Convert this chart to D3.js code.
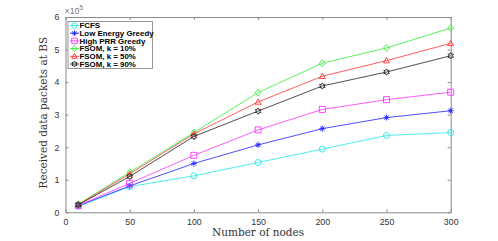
<!DOCTYPE html>
<html><head><meta charset="utf-8">
<script src="https://cdn.jsdelivr.net/npm/d3@7"></script>
<style>body{margin:0;background:#fff}svg{display:block}</style>
</head><body>
<svg id="c" width="498" height="241"></svg>
<script>
const nodes = [10, 50, 100, 150, 200, 250, 300];
const fcfs   = [0.18, 0.79, 1.12, 1.53, 1.94, 2.36, 2.45];
const leg    = [0.20, 0.81, 1.50, 2.07, 2.57, 2.91, 3.12];
const hprr   = [0.21, 0.89, 1.75, 2.53, 3.16, 3.46, 3.69];
const fsom10 = [0.25, 1.23, 2.45, 3.68, 4.58, 5.05, 5.66];
const fsom50 = [0.24, 1.18, 2.41, 3.39, 4.18, 4.66, 5.19];
const fsom90 = [0.23, 1.10, 2.33, 3.11, 3.88, 4.31, 4.81];
const seriesNames = ["FCFS", "Low Energy Greedy", "High PRR Greedy", "FSOM, k = 10%", "FSOM, k = 50%", "FSOM, k = 90%"];
const xTicks = [0, 50, 100, 150, 200, 250, 300];
const yTicks = [0, 1, 2, 3, 4, 5, 6];

const seriesData = [fcfs, leg, hprr, fsom10, fsom50, fsom90];
const colors = ["#22e8e8", "#2222ff", "#ff33ff", "#33ee33", "#ff3333", "#222222"];
const markers = ["circle", "asterisk", "square", "diamond", "triangle", "hexagram"];

const svg = d3.select("#c");
const L = 65.5, R = 450.7, T = 17, B = 212.3;
const x = d3.scaleLinear().domain([0, 300]).range([L, R]);
const y = d3.scaleLinear().domain([0, 6]).range([B, T]);
const axisCol = "#8a8a8a", textCol = "#333";

function styleAxis(g, hideText) {
  g.select(".domain").attr("stroke", axisCol).attr("stroke-width", 1);
  g.selectAll(".tick line").attr("stroke", axisCol);
  g.selectAll("text").attr("fill", textCol).style("font-family", "Liberation Sans, Arial, sans-serif").style("font-size", "8.8px");
  if (hideText) g.selectAll("text").remove();
}
svg.append("g").attr("transform", `translate(0,${B})`)
  .call(d3.axisBottom(x).tickValues(xTicks).tickSizeInner(-3).tickSizeOuter(0).tickPadding(6))
  .call(g => styleAxis(g));
svg.append("g").attr("transform", `translate(0,${T})`)
  .call(d3.axisTop(x).tickValues(xTicks).tickSizeInner(-3).tickSizeOuter(0))
  .call(g => styleAxis(g, true));
svg.append("g").attr("transform", `translate(${L},0)`)
  .call(d3.axisLeft(y).tickValues(yTicks).tickFormat(d3.format("d")).tickSizeInner(-3).tickSizeOuter(0).tickPadding(6))
  .call(g => styleAxis(g));
svg.append("g").attr("transform", `translate(${R},0)`)
  .call(d3.axisRight(y).tickValues(yTicks).tickSizeInner(-3).tickSizeOuter(0))
  .call(g => styleAxis(g, true));

// exponent label
const ex = svg.append("text").attr("x", L - 1).attr("y", T - 3)
  .attr("fill", "#777").style("font-family", "Liberation Sans, Arial, sans-serif").style("font-size", "8.8px");
ex.append("tspan").text("×10");
ex.append("tspan").attr("dy", -4).style("font-size", "6.5px").text("5");

// markers
function markerPath(type, s) {
  const h = s / 2;
  switch (type) {
    case "circle": return d3.symbol(d3.symbolCircle, s * s * 0.785)();
    case "square": return `M${-h},${-h}H${h}V${h}H${-h}Z`;
    case "diamond": return `M0,${-h * 1.15}L${h},0L0,${h * 1.15}L${-h},0Z`;
    case "triangle": return `M0,${-h}L${h},${h * 0.75}L${-h},${h * 0.75}Z`;
    case "asterisk": {
      const d = h * 0.72;
      return `M${-h},0H${h}M0,${-h}V${h}M${-d},${-d}L${d},${d}M${-d},${d}L${d},${-d}`;
    }
    case "hexagram": {
      let p = "";
      for (let k = 0; k < 12; k++) {
        const r = k % 2 === 0 ? h * 1.05 : h * 0.6;
        const a = -Math.PI / 2 + k * Math.PI / 6;
        p += (k ? "L" : "M") + (r * Math.cos(a)).toFixed(2) + "," + (r * Math.sin(a)).toFixed(2);
      }
      return p + "Z";
    }
  }
}

const line = d3.line().x((d, i) => x(nodes[i])).y(d => y(d));
seriesData.forEach((vals, si) => {
  const g = svg.append("g");
  g.append("path").attr("d", line(vals)).attr("fill", "none")
    .attr("stroke", colors[si]).attr("stroke-width", 0.8);
  g.selectAll("path.m").data(vals).enter().append("path").attr("class", "m")
    .attr("transform", (d, i) => `translate(${x(nodes[i])},${y(d)})`)
    .attr("d", markerPath(markers[si], 6))
    .attr("fill", "none").attr("stroke", colors[si]).attr("stroke-width", 0.9);
});

// legend
const lg = svg.append("g");
lg.append("rect").attr("x", 68).attr("y", 21.5).attr("width", 84.5).attr("height", 47)
  .attr("fill", "#fff").attr("stroke", axisCol).attr("stroke-width", 0.9);
seriesNames.forEach((nm, i) => {
  const yy = 25.5 + i * 7.7;
  lg.append("line").attr("x1", 70).attr("x2", 79).attr("y1", yy).attr("y2", yy)
    .attr("stroke", colors[i]).attr("stroke-width", 0.9);
  lg.append("path").attr("transform", `translate(74.5,${yy})`).attr("d", markerPath(markers[i], 5.5))
    .attr("fill", "none").attr("stroke", colors[i]).attr("stroke-width", 0.9);
  lg.append("text").attr("x", 79.5).attr("y", yy + 2.8).text(nm)
    .attr("fill", "#000").style("font-family", "Liberation Sans, Arial, sans-serif")
    .style("font-size", "7.9px").style("font-weight", "bold");
});

// axis titles
svg.append("text").attr("x", (L + R) / 2).attr("y", 236).attr("text-anchor", "middle")
  .attr("fill", "#333").style("font-family", "DejaVu Serif, serif").style("font-size", "10.5px")
  .text("Number of nodes");
svg.append("text").attr("transform", `translate(47,${(T + B) / 2 - 2}) rotate(-90)`).attr("text-anchor", "middle")
  .attr("fill", "#333").style("font-family", "DejaVu Serif, serif").style("font-size", "10.5px")
  .text("Received data packets at BS");
</script>
</body></html>
